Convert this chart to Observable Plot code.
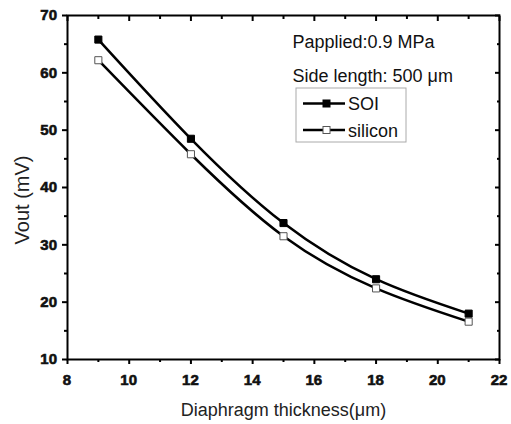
<!DOCTYPE html>
<html><head><meta charset="utf-8">
<script src="https://cdn.jsdelivr.net/npm/d3@7"></script>
<script src="https://cdn.jsdelivr.net/npm/@observablehq/plot@0.6"></script>
<style>
body{margin:0;background:#fff}
#chart svg{font-family:"Liberation Sans",Arial,sans-serif}
</style>
</head><body><div id="chart"></div>
<script>
const thickness = [9, 12, 15, 18, 21];
const soi = [65.8, 48.5, 33.8, 24.0, 18.0];
const silicon = [62.2, 45.8, 31.5, 22.4, 16.6];
const seriesNames = ["SOI", "silicon"];
const xMajorTicks = [8, 10, 12, 14, 16, 18, 20, 22];
const xMinorTicks = [9, 11, 13, 15, 17, 19, 21];
const yMajorTicks = [10, 20, 30, 40, 50, 60, 70];
const yMinorTicks = [15, 25, 35, 45, 55, 65];
const notes = ["Papplied:0.9 MPa", "Side length: 500 μm"];
const xTitle = "Diaphragm thickness(μm)";
const yTitle = "Vout (mV)";

const rows = thickness.flatMap((t, i) => [
  {t, v: soi[i], s: seriesNames[0]},
  {t, v: silicon[i], s: seriesNames[1]}
]);

const font = "'Liberation Sans', Arial, sans-serif";
const plot = Plot.plot({
  width: 511, height: 424,
  marginLeft: 67, marginRight: 12, marginTop: 15, marginBottom: 65,
  x: {domain: [8, 22]},
  y: {domain: [10, 70]},
  style: {fontFamily: font, color: "black", background: "white", overflow: "visible"},
  marks: [
    Plot.axisX(xMajorTicks, {anchor: "bottom", tickSize: 5, fill: "none", strokeWidth: 2, label: null}),
    Plot.axisX(xMinorTicks, {anchor: "bottom", tickSize: 3, fill: "none", strokeWidth: 2, label: null}),
    Plot.axisX(xMajorTicks, {anchor: "top", tickSize: -5, fill: "none", strokeWidth: 2, label: null}),
    Plot.axisX(xMinorTicks, {anchor: "top", tickSize: -3, fill: "none", strokeWidth: 2, label: null}),
    Plot.axisY(yMajorTicks, {anchor: "left", tickSize: 5, fill: "none", strokeWidth: 2, label: null}),
    Plot.axisY(yMinorTicks, {anchor: "left", tickSize: 3, fill: "none", strokeWidth: 2, label: null}),
    Plot.axisY(yMajorTicks, {anchor: "right", tickSize: -5, fill: "none", strokeWidth: 2, label: null}),
    Plot.axisY(yMinorTicks, {anchor: "right", tickSize: -3, fill: "none", strokeWidth: 2, label: null}),
    Plot.frame({stroke: "black", strokeWidth: 2}),
    Plot.line(rows, {x: "t", y: "v", z: "s", curve: "natural", stroke: "black", strokeWidth: 2.5}),
    Plot.dot(rows.filter(d => d.s === seriesNames[0]), {x: "t", y: "v", symbol: "square", r: 4, fill: "black", stroke: "black", strokeWidth: 1}),
    Plot.dot(rows.filter(d => d.s === seriesNames[1]), {x: "t", y: "v", symbol: "square", r: 4, fill: "white", stroke: "#555", strokeWidth: 1}),
    Plot.text([notes[0]], {frameAnchor: "top-left", dx: 225, dy: 32, lineAnchor: "bottom", textAnchor: "start", fontSize: 18, fill: "#111"}),
    Plot.text([notes[1]], {frameAnchor: "top-left", dx: 225, dy: 66, lineAnchor: "bottom", textAnchor: "start", fontSize: 18, fill: "#111"}),
    Plot.text([xTitle], {frameAnchor: "bottom", dy: 56, lineAnchor: "bottom", fontSize: 18, fill: "#222"})
  ]
});

const svg = d3.select(plot);
const xs = plot.scale("x"), ys = plot.scale("y");
// bold tick labels drawn through the plot's own scales
const tl = svg.append("g").attr("font-family", font).attr("font-weight", "bold")
  .attr("font-size", 15).attr("fill", "#111").attr("stroke", "#111").attr("stroke-width", 0.6);
xMajorTicks.forEach(t => tl.append("text").attr("x", xs.apply(t)).attr("y", 385)
  .attr("text-anchor", "middle").text(String(t)));
yMajorTicks.forEach(t => tl.append("text").attr("x", 57).attr("y", ys.apply(t)).attr("dy", "0.36em")
  .attr("text-anchor", "end").text(String(t)));

// y-axis title
svg.append("text").attr("transform", "translate(22,200) rotate(-90)")
  .attr("text-anchor", "middle").attr("dy", "0.35em")
  .attr("font-size", 20).attr("font-family", font).attr("fill", "#222").text(yTitle);

// legend
const lg = svg.append("g").attr("text-anchor", "start");
lg.append("rect").attr("x", 296).attr("y", 88).attr("width", 110).attr("height", 54)
  .attr("fill", "white").attr("stroke", "#aaa").attr("stroke-width", 1);
const entries = [
  {name: seriesNames[0], y: 103.5, fill: "black", stroke: "black"},
  {name: seriesNames[1], y: 130, fill: "white", stroke: "#555"}
];
entries.forEach(e => {
  lg.append("line").attr("x1", 303).attr("x2", 345).attr("y1", e.y).attr("y2", e.y)
    .attr("stroke", "black").attr("stroke-width", 2.5);
  lg.append("rect").attr("x", 326.5 - 3.5).attr("y", e.y - 3.5).attr("width", 7).attr("height", 7)
    .attr("fill", e.fill).attr("stroke", e.stroke).attr("stroke-width", 1);
  lg.append("text").attr("x", 348).attr("y", e.y + 6.5).attr("font-size", 18)
    .attr("text-anchor", "start").attr("font-family", font).attr("fill", "#111").text(e.name);
});

document.getElementById("chart").append(plot);
</script>
</body></html>
